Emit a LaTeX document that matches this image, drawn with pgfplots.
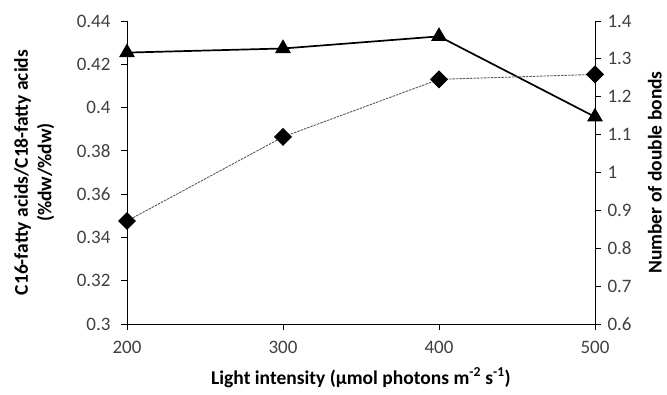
\documentclass[border=0pt]{standalone}
\usepackage{pgfplots}
\pgfplotsset{compat=1.18}
\usepackage{fontspec}
\setmainfont{Carlito}
\definecolor{ticktext}{HTML}{404040}
\begin{document}
\begin{tikzpicture}[font=\fontsize{19}{22}\selectfont]
\pgfplotsset{
  every axis/.append style={
    scale only axis, width=468pt, height=303pt,
    xmin=200, xmax=500,
    tick align=outside, major tick length=6pt,
    axis line style={-, line width=0.8pt},
    every tick/.style={black, line width=0.8pt},
    tick label style={font=\fontsize{19}{22}\selectfont, text=ticktext},
    /pgf/number format/assume math mode=true,
    label style={font=\fontsize{19.5}{23.5}\selectfont\bfseries},
  }
}
\begin{axis}[
  name=main,
  ymin=0.3, ymax=0.44,
  axis x line*=bottom, axis y line*=left,
  xtick={200,300,400,500},
  ytick={0.3,0.32,0.34,0.36,0.38,0.4,0.42,0.44},
  yticklabel style={xshift=-7pt, /pgf/number format/fixed, /pgf/number format/precision=2},
  xticklabel style={yshift=-8pt},
  xlabel={Light intensity (µmol photons  m\textsuperscript{-2} s\textsuperscript{-1})},
  xlabel style={at={(axis description cs:0.5,-0.178)}, anchor=center},
  ylabel={C16-fatty acids/C18-fatty acids\\(\%dw/\%dw)},
  ylabel style={align=center, at={(axis description cs:-0.198,0.5)}, anchor=center},
]
\addplot[black, line width=1.7pt, mark=triangle*, mark size=7.5pt, mark options={solid}]
  coordinates {(200,0.4254) (300,0.4273) (400,0.4329) (500,0.3957)};
\end{axis}
\begin{axis}[
  clip=false,
  ymin=0.6, ymax=1.4,
  axis y line*=right, axis x line=none,
  ytick={0.6,0.7,0.8,0.9,1,1.1,1.2,1.3,1.4},
  yticklabel style={xshift=3pt, /pgf/number format/fixed, /pgf/number format/precision=1},
]
\addplot[gray!70!black, line width=0.9pt, dash pattern=on 2.5pt off 1pt, mark=square*, mark size=5.9pt, mark options={solid, rotate=45, fill=black, draw=black}]
  coordinates {(200,0.872) (300,1.094) (400,1.246) (500,1.259)};
\node[rotate=90, anchor=center, font=\fontsize{19.5}{23.5}\selectfont\bfseries] at (axis description cs:1.128,0.5) {Number of double bonds};
\end{axis}
\pgfresetboundingbox
\path (main.south west) ++(-127pt,-70pt) rectangle ++(667pt,394pt);
\end{tikzpicture}
\end{document}
